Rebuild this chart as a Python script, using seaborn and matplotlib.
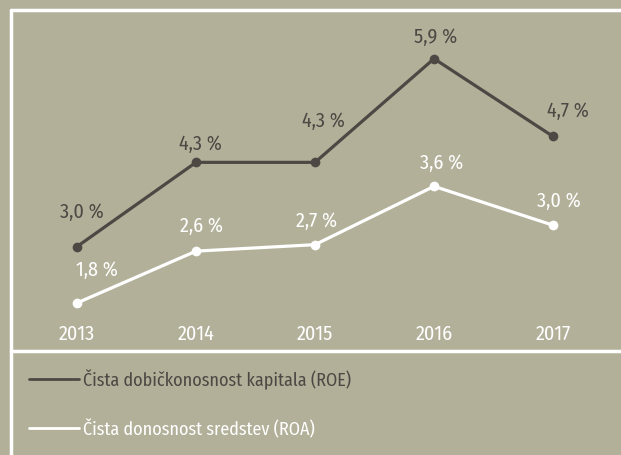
import matplotlib
matplotlib.use("Agg")
import matplotlib.pyplot as plt
import seaborn as sns
import pandas as pd

# Data
years = [2013, 2014, 2015, 2016, 2017]
roe = [3.0, 4.3, 4.3, 5.9, 4.7]
roa = [1.8, 2.6, 2.7, 3.6, 3.0]
roe_name = "Čista dobičkonosnost kapitala (ROE)"
roa_name = "Čista donosnost sredstev (ROA)"

# label offsets (points) relative to each marker
roe_offsets = [(3.6, 25.6), (2.9, 14), (5.8, 30.5), (1.4, 16.3), (10.8, 19)]
roa_offsets = [(14.4, 24.5), (3.6, 18.7), (1.4, 17.7), (5.8, 17.5), (4.3, 18.1)]

bg = "#b3b09a"
dark = "#4d4843"
white = "#ffffff"

sns.set_theme(style="white")
plt.rcParams["font.family"] = ["Fira Sans Condensed", "DejaVu Sans"]

df = pd.DataFrame({"Leto": years, "ROE": roe, "ROA": roa})

fig = plt.figure(figsize=(6.21, 4.56), dpi=100, facecolor=bg)
ax = fig.add_axes([0, 0, 1, 1])
ax.set_facecolor(bg)
ax2 = ax.twinx()

sns.lineplot(data=df, x="Leto", y="ROE", ax=ax, color=dark, linewidth=2.3,
             marker="o", markersize=7, markeredgewidth=0, label=roe_name)
sns.lineplot(data=df, x="Leto", y="ROA", ax=ax2, color=white, linewidth=2.3,
             marker="o", markersize=7, markeredgewidth=0, label=roa_name)

def fmt(v):
    return f"{v:.1f} %".replace(".", ",")

for x, v, off in zip(years, roe, roe_offsets):
    ax.annotate(fmt(v), (x, v), xytext=off, textcoords="offset points",
                ha="center", va="center", fontsize=14.5, color=dark)
for x, v, off in zip(years, roa, roa_offsets):
    ax2.annotate(fmt(v), (x, v), xytext=off, textcoords="offset points",
                 ha="center", va="center", fontsize=14.5, color=white)

# ranges chosen so the lines sit inside the frame like the original
ax.set_xlim(2012.353, 2017.571)
ax.set_ylim(-0.216, 6.821)
ax2.set_ylim(-0.546, 6.491)
for a in (ax, ax2):
    for s in a.spines.values():
        s.set_visible(False)
    a.set_xticks([])
    a.set_yticks([])
    a.set_xlabel("")
    a.set_ylabel("")

# year labels under the lines
for x in years:
    ax.text(x, 1 - 334 / 456, str(x), transform=ax.get_xaxis_transform(),
            ha="center", va="center", fontsize=14.5, color=white)

# white frame
fr = dict(transform=ax.transAxes, color=white, lw=2.5, clip_on=False)
ax.plot([11 / 621, 1], [1 - 11 / 456] * 2, **fr)
ax.plot([11 / 621] * 2, [0, 1 - 11 / 456], **fr)
ax.plot([11 / 621, 1], [1 - 352 / 456] * 2, **fr)

h1, l1 = ax.get_legend_handles_labels()
h2, l2 = ax2.get_legend_handles_labels()
ax2.get_legend().remove()
leg = ax.legend(h1[:1] + h2[:1], [roe_name, roa_name], loc="upper left",
                bbox_to_anchor=(29 / 621, 1 - 370 / 456), frameon=False,
                fontsize=13, handlelength=2.75, handletextpad=0.25,
                labelspacing=1.6, borderpad=0, borderaxespad=0)
for line in leg.get_lines():
    line.set_marker("")
    line.set_linewidth(2)
leg.get_texts()[0].set_color(dark)
leg.get_texts()[1].set_color(white)

fig.savefig("out.png", dpi=100, facecolor=bg)
